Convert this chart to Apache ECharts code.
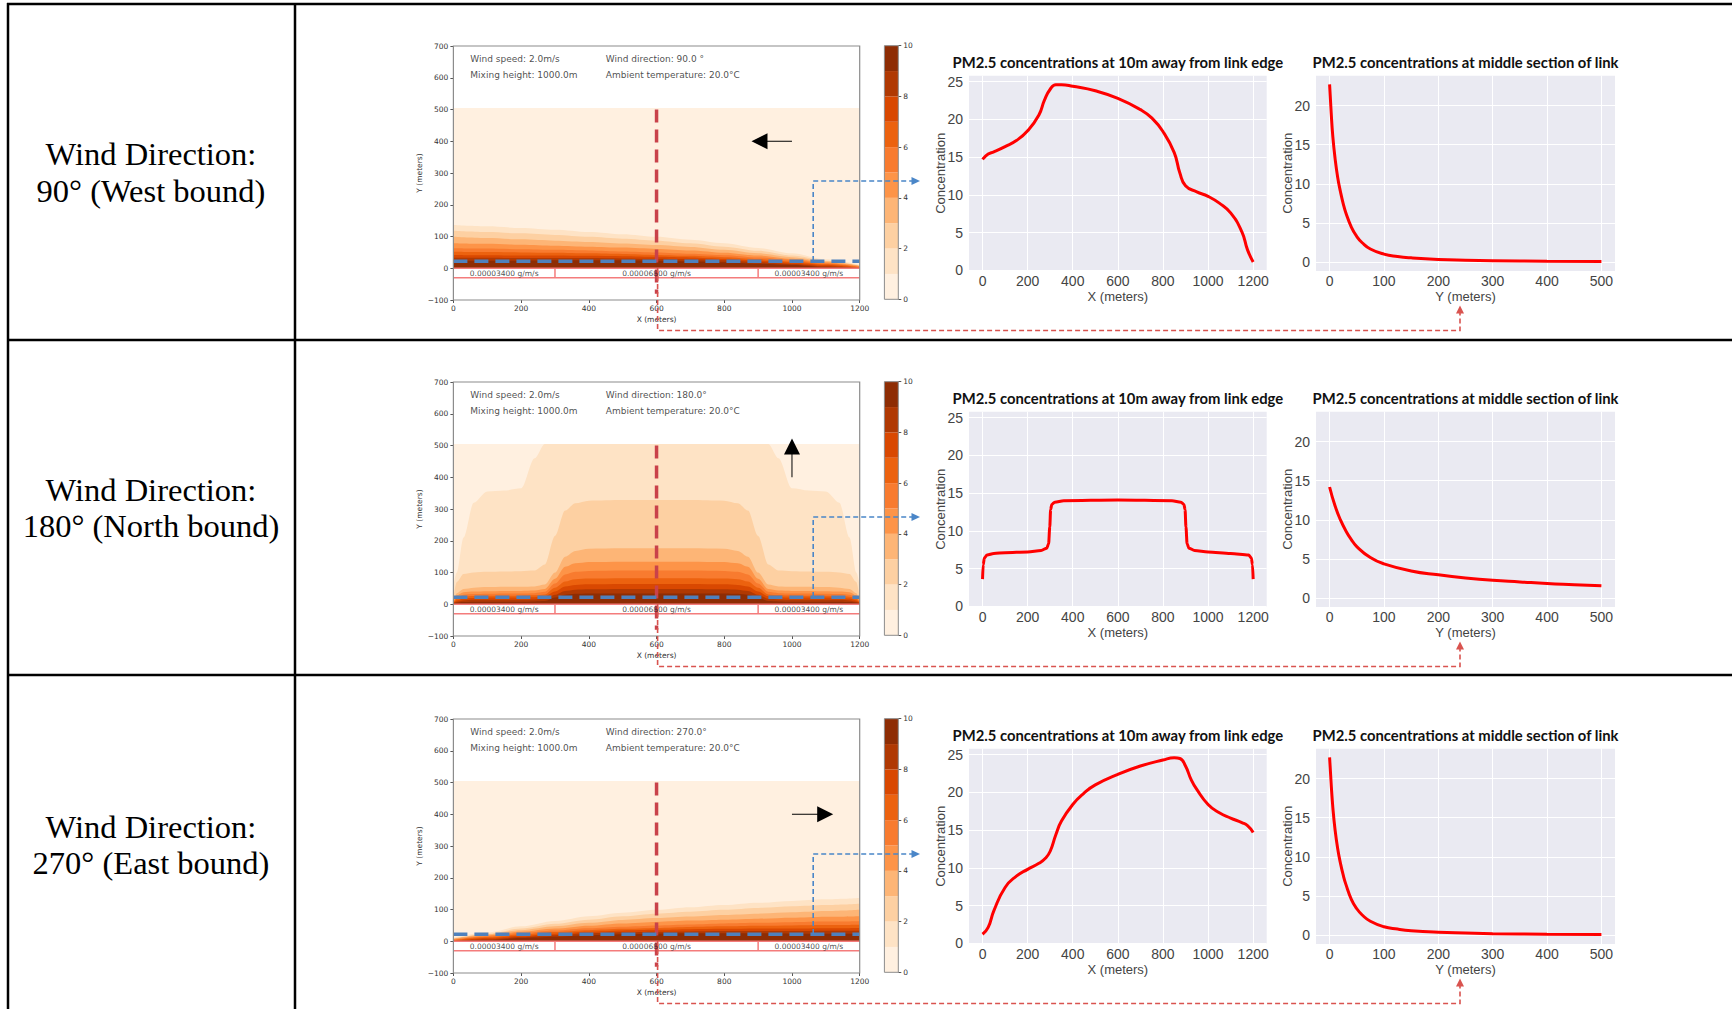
<!DOCTYPE html>
<html>
<head>
<meta charset="utf-8">
<title>PM2.5 dispersion by wind direction</title>
<script src="https://cdn.jsdelivr.net/npm/echarts@6.0.0/dist/echarts.min.js"></script>
<style>
  html, body { margin: 0; padding: 0; background: #fff; }
  #main { width: 1732px; height: 1009px; }
</style>
</head>
<body>
<div id="main"></div>
<script>
// ---- values ----
const rowLabels = ['Wind Direction:\n90\u00b0 (West bound)', 'Wind Direction:\n180\u00b0 (North bound)', 'Wind Direction:\n270\u00b0 (East bound)'];
const windSpeedText = 'Wind speed: 2.0m/s';
const windDirTexts = ['Wind direction: 90.0 \u00b0', 'Wind direction: 180.0\u00b0', 'Wind direction: 270.0\u00b0'];
const mixingText = 'Mixing height: 1000.0m';
const ambientText = 'Ambient temperature: 20.0\u00b0C';
const edgeTitle = 'PM2.5 concentrations at 10m away from link edge';
const midTitle = 'PM2.5 concentrations at middle section of link';

const roadSegX = [0, 300, 900, 1200];
const roadEdgeY = [0, -30];
const roadRates = ['0.00003400 g/m/s', '0.00006800 g/m/s', '0.00003400 g/m/s'];
const middleSectionX = 600;
const edgeLineY = 22;
const windTail = [[1000, 400], [1000, 400], [1000, 400]];
const windHead = [[904, 400], [1000, 497], [1098, 400]];

const colorbarLevels = [0, 1, 2, 3, 4, 5, 6, 7, 8, 9, 10];
const colorbarTicks = [0, 2, 4, 6, 8, 10];
const levelColors = ['#fff0e0', '#fee3c5', '#fdd0a2', '#fdb576', '#fd9448', '#f87b2f', '#ec620f', '#d94801', '#b03903', '#8e2d04'];

// plume contour heights (m) for levels 1..9
const plumeTop = 505;
const plumeXSide = [0, 100, 200, 300, 400, 500, 600, 700, 800, 900, 1000, 1100, 1200];
const plumeXNorth = [0, 10, 30, 60, 100, 150, 200, 240, 270, 300, 330, 360, 400, 500, 600, 700, 800, 840, 870, 900, 930, 960, 1000, 1050, 1100, 1140, 1170, 1190, 1200];
const plumeWest = [
  [136, 132, 127, 121, 114, 107, 99, 90, 79, 64, 47, 28, 11],
  [118, 114, 110, 105, 99, 93, 87, 79, 68, 55, 40, 24, 9],
  [99, 95, 91, 87, 83, 78, 73, 67, 58, 47, 35, 22, 8],
  [79, 77, 74, 71, 68, 65, 61, 56, 49, 40, 30, 19, 7],
  [63, 62, 60, 58, 56, 53, 50, 46, 41, 34, 26, 16, 5],
  [52, 51, 50, 49, 47, 45, 42, 39, 35, 29, 21, 13, 3],
  [42, 41, 40, 40, 39, 38, 36, 34, 30, 24, 17, 10, 1],
  [33, 33, 32, 32, 32, 31, 30, 28, 25, 19, 13, 6, 0],
  [24, 24, 24, 25, 25, 25, 24, 22, 19, 14, 10, 3, 0]
];
const plumeNorth = [
  [60, 100, 210, 320, 355, 358, 365, 460, 505, 505, 505, 505, 505, 505, 505, 505, 505, 505, 505, 505, 505, 460, 365, 358, 355, 320, 210, 100, 60],
  [20, 70, 95, 100, 102, 103, 104, 106, 125, 215, 295, 318, 326, 328, 328, 328, 326, 318, 295, 215, 125, 106, 104, 103, 102, 100, 95, 70, 20],
  [10, 35, 48, 52, 54, 55, 55, 56, 62, 100, 150, 168, 175, 176, 176, 176, 175, 168, 150, 100, 62, 56, 55, 55, 54, 52, 48, 35, 10],
  [8, 28, 38, 40, 41, 42, 42, 43, 48, 80, 118, 129, 133, 134, 134, 134, 133, 129, 118, 80, 48, 43, 42, 42, 41, 40, 38, 28, 8],
  [6, 22, 30, 32, 33, 34, 34, 35, 39, 65, 94, 102, 105, 106, 106, 106, 105, 102, 94, 65, 39, 35, 34, 34, 33, 32, 30, 22, 6],
  [5, 17, 24, 26, 27, 27, 27, 28, 31, 52, 72, 79, 81, 82, 82, 82, 81, 79, 72, 52, 31, 28, 27, 27, 27, 26, 24, 17, 5],
  [4, 12, 18, 20, 21, 21, 21, 22, 25, 40, 56, 61, 63, 64, 64, 64, 63, 61, 56, 40, 25, 22, 21, 21, 21, 20, 18, 12, 4],
  [3, 8, 12, 14, 14, 14, 14, 15, 17, 30, 42, 46, 47, 48, 48, 48, 47, 46, 42, 30, 17, 15, 14, 14, 14, 14, 12, 8, 3],
  [2, 5, 7, 8, 8, 8, 8, 9, 10, 21, 30, 33, 34, 34, 34, 34, 34, 33, 30, 21, 10, 9, 8, 8, 8, 8, 7, 5, 2]
];
const plumeEast = [
  [11, 28, 47, 64, 79, 90, 99, 107, 114, 121, 127, 132, 136],
  [9, 24, 40, 55, 68, 79, 87, 93, 99, 105, 110, 114, 118],
  [8, 22, 35, 47, 58, 67, 73, 78, 83, 87, 91, 95, 99],
  [7, 19, 30, 40, 49, 56, 61, 65, 68, 71, 74, 77, 79],
  [5, 16, 26, 34, 41, 46, 50, 53, 56, 58, 60, 62, 63],
  [3, 13, 21, 29, 35, 39, 42, 45, 47, 49, 50, 51, 52],
  [1, 10, 17, 24, 30, 34, 36, 38, 39, 40, 40, 41, 42],
  [0, 6, 13, 19, 25, 28, 30, 31, 32, 32, 32, 33, 33],
  [0, 3, 10, 14, 19, 22, 24, 25, 25, 25, 24, 24, 24]
];

// concentration 10 m from the link edge, along X
const edgeTicks = [0, 200, 400, 600, 800, 1000, 1200];
const edgeX1 = [0, 25, 50, 100, 150, 200, 250, 275, 300, 325, 350, 400, 500, 600, 700, 750, 800, 850, 875, 900, 950, 1000, 1050, 1100, 1150, 1175, 1200];
const edgeC1 = [14.7, 15.4, 15.7, 16.4, 17.2, 18.5, 20.6, 22.6, 24.0, 24.6, 24.6, 24.4, 23.8, 22.8, 21.3, 20.2, 18.4, 15.6, 12.9, 11.2, 10.4, 9.8, 8.9, 7.6, 5.1, 2.7, 1.1];
const edgeX2 = [0, 3, 8, 20, 50, 100, 200, 260, 285, 293, 298, 302, 307, 320, 360, 600, 840, 880, 893, 898, 902, 907, 915, 940, 1000, 1100, 1180, 1192, 1197, 1200];
const edgeC2 = [3.6, 5.5, 6.4, 6.8, 7.0, 7.1, 7.2, 7.4, 7.7, 8.3, 10.5, 12.8, 13.5, 13.8, 14.0, 14.1, 14.0, 13.8, 13.5, 12.8, 10.5, 8.3, 7.7, 7.4, 7.2, 7.0, 6.8, 6.4, 5.5, 3.6];
const edgeX3 = [0, 25, 50, 100, 150, 200, 250, 280, 300, 325, 350, 400, 450, 500, 600, 700, 800, 850, 875, 900, 925, 950, 1000, 1050, 1100, 1150, 1175, 1200];
const edgeC3 = [1.2, 2.1, 4.3, 7.4, 8.9, 9.8, 10.6, 11.3, 12.2, 14.4, 16.2, 18.4, 19.9, 21.0, 22.4, 23.5, 24.3, 24.6, 24.5, 23.5, 21.7, 20.4, 18.4, 17.3, 16.6, 16.0, 15.6, 14.7];

// concentration at the middle section, along Y
const midTicks = [0, 100, 200, 300, 400, 500];
const midY1 = [0, 3, 6, 10, 15, 20, 25, 30, 40, 50, 60, 75, 100, 125, 150, 200, 250, 300, 400, 500];
const midC1 = [22.7, 19.0, 16.0, 13.3, 10.8, 9.0, 7.5, 6.3, 4.5, 3.3, 2.5, 1.7, 1.05, 0.75, 0.58, 0.38, 0.28, 0.22, 0.15, 0.12];
const midY2 = [0, 10, 20, 30, 40, 50, 75, 100, 150, 200, 250, 300, 350, 400, 450, 500];
const midC2 = [14.2, 11.8, 10.0, 8.6, 7.5, 6.6, 5.2, 4.4, 3.5, 3.0, 2.6, 2.3, 2.1, 1.9, 1.75, 1.6];
const midY3 = [0, 3, 6, 10, 15, 20, 25, 30, 40, 50, 60, 75, 100, 125, 150, 200, 250, 300, 400, 500];
const midC3 = [22.7, 19.2, 16.3, 13.5, 11.0, 9.2, 7.7, 6.5, 4.6, 3.4, 2.6, 1.8, 1.1, 0.8, 0.6, 0.4, 0.3, 0.22, 0.15, 0.12];
const concTicksEdge = [0, 5, 10, 15, 20, 25];
const concTicksMid = [0, 5, 10, 15, 20];

const plumes = [plumeWest, plumeNorth, plumeEast];
const plumeXs = [plumeXSide, plumeXNorth, plumeXSide];
const edgeXs = [edgeX1, edgeX2, edgeX3];
const edgeCs = [edgeC1, edgeC2, edgeC3];
const midYs = [midY1, midY2, midY3];
const midCs = [midC1, midC2, midC3];

// ---- layout ----
const rowOffsets = [0, 336, 673];
const labelCenters = [172.5, 508, 845];
const arrowRotate = [90, 0, -90];
const heatBox = { left: 453.4, top: 46, width: 406.3, height: 254 };
const barBox = { left: 884.4, top: 45.7, width: 13.9, height: 253.6 };
const edgeBox = { left: 969, top: 75.7, width: 297.7, height: 195.3 };
const midBox = { left: 1316, top: 75.7, width: 299, height: 195.3 };

const tiny = { fontFamily: 'DejaVu Sans', fontSize: 7.5, color: '#333' };
const seaLabel = { fontFamily: '"Liberation Sans Narrow", "Liberation Sans", sans-serif', fontSize: 14, color: '#444' };
const seaName = { fontFamily: '"Liberation Sans", sans-serif', fontSize: 13, color: '#444' };

const chart = echarts.init(document.getElementById('main'), null, { renderer: 'svg' });
const grid = [], xAxis = [], yAxis = [], series = [], elements = [];

function addGrid(box, off, extra) {
  grid.push(Object.assign({ left: box.left, top: box.top + off, width: box.width, height: box.height,
    containLabel: false, outerBoundsMode: 'none' }, extra || {}));
  return grid.length - 1;
}
function seg(gi, pts, style, z) {
  series.push({ type: 'line', xAxisIndex: gi, yAxisIndex: gi, data: pts, symbol: 'none',
    lineStyle: style, z: z, silent: true });
}
function seaX(gi, min, max, ticks, name) {
  xAxis.push({ gridIndex: gi, type: 'value', min: min, max: max,
    axisLine: { show: false, onZero: false },
    axisTick: { show: false, customValues: ticks },
    axisLabel: Object.assign({ customValues: ticks, margin: 3, formatter: v => String(v) }, seaLabel),
    splitLine: { show: true, lineStyle: { color: '#ffffff', width: 1 } },
    name: name, nameLocation: 'middle', nameGap: 18.5, nameTextStyle: seaName });
}
function seaY(gi, min, max, ticks) {
  yAxis.push({ gridIndex: gi, type: 'value', min: min, max: max,
    axisLine: { show: false, onZero: false },
    axisTick: { show: false, customValues: ticks },
    axisLabel: Object.assign({ customValues: ticks, margin: 6, formatter: v => String(v) }, seaLabel),
    splitLine: { show: true, lineStyle: { color: '#ffffff', width: 1 } },
    name: 'Concentration', nameLocation: 'middle', nameGap: 22, nameMoveOverlap: false, nameTextStyle: seaName });
}

for (let r = 0; r < 3; r++) {
  const off = rowOffsets[r];

  // contour panel
  const hg = addGrid(heatBox, off);
  xAxis.push({ gridIndex: hg, type: 'value', min: 0, max: 1200, interval: 200,
    axisLine: { show: false, onZero: false },
    axisTick: { show: true, length: 3, lineStyle: { color: '#555' } },
    axisLabel: Object.assign({ margin: 4, formatter: v => String(v) }, tiny), splitLine: { show: false },
    name: 'X (meters)', nameLocation: 'middle', nameGap: 15, nameTextStyle: tiny });
  yAxis.push({ gridIndex: hg, type: 'value', min: -100, max: 700, interval: 100,
    axisLine: { show: false, onZero: false },
    axisTick: { show: true, length: 3, lineStyle: { color: '#555' } },
    axisLabel: Object.assign({ margin: 5, formatter: v => (v < 0 ? '\u2212' + (-v) : '' + v) }, tiny),
    splitLine: { show: false },
    name: 'Y (meters)', nameLocation: 'middle', nameGap: 30, nameMoveOverlap: false, nameTextStyle: tiny });

  const px = plumeXs[r];
  series.push({ type: 'line', xAxisIndex: hg, yAxisIndex: hg, silent: true, symbol: 'none',
    data: [[px[0], plumeTop], [px[px.length - 1], plumeTop]],
    lineStyle: { width: 0, opacity: 0 }, areaStyle: { color: levelColors[0], opacity: 1 }, z: 2 });
  plumes[r].forEach((hs, k) => {
    series.push({ type: 'line', xAxisIndex: hg, yAxisIndex: hg, silent: true, symbol: 'none',
      data: px.map((x, i) => [x, hs[i]]), smooth: 0.3, smoothMonotone: 'x',
      lineStyle: { width: 0, opacity: 0 }, areaStyle: { color: levelColors[k + 1], opacity: 1 }, z: 3 + k });
  });

  const roadStyle = { color: '#f47c7c', width: 1.5 };
  roadEdgeY.forEach(y => seg(hg, [[roadSegX[0], y], [roadSegX[3], y]], roadStyle, 20));
  [roadSegX[1], roadSegX[2]].forEach(x => seg(hg, [[x, roadEdgeY[0]], [x, roadEdgeY[1]]], roadStyle, 20));
  series.push({ type: 'scatter', xAxisIndex: hg, yAxisIndex: hg, silent: true, symbolSize: 0, z: 23,
    data: roadRates.map((t, i) => ({ name: t, value: [(roadSegX[i] + roadSegX[i + 1]) / 2, -18] })),
    label: Object.assign({ show: true, position: 'inside', formatter: '{b}' }, tiny, { color: '#222' }) });

  series.push({ type: 'scatter', xAxisIndex: hg, yAxisIndex: hg, silent: true, symbolSize: 0, z: 23,
    data: [
      { name: windSpeedText, value: [50, 660] },
      { name: windDirTexts[r], value: [450, 660] },
      { name: mixingText, value: [50, 610] },
      { name: ambientText, value: [450, 610] }
    ],
    label: Object.assign({ show: true, position: 'right', distance: 0, formatter: '{b}' }, tiny, { fontSize: 9, color: '#222' }) });

  seg(hg, [[middleSectionX, 500], [middleSectionX, -80]], { color: '#c9424a', width: 3.5, type: [13, 7] }, 21);
  seg(hg, [[0, edgeLineY], [1200, edgeLineY]], { color: '#4f81bd', width: 3.5, type: [14, 7] }, 22);

  series.push({ type: 'line', xAxisIndex: hg, yAxisIndex: hg, silent: true, showSymbol: true, z: 24,
    data: [{ value: windTail[r], symbol: 'none' },
           { value: windHead[r], symbol: 'triangle', symbolSize: 16, symbolRotate: arrowRotate[r] }],
    lineStyle: { color: '#000', width: 1 }, itemStyle: { color: '#000' } });

  // colour bar
  const cg = addGrid(barBox, off);
  xAxis.push({ gridIndex: cg, type: 'value', min: 0, max: 1, show: false });
  yAxis.push({ gridIndex: cg, type: 'value', position: 'right', min: 0, max: 10,
    axisLine: { show: false, onZero: false },
    axisTick: { show: true, length: 3, customValues: colorbarTicks, lineStyle: { color: '#555' } },
    axisLabel: Object.assign({ margin: 5, customValues: colorbarTicks }, tiny), splitLine: { show: false } });
  series.push({ type: 'custom', xAxisIndex: cg, yAxisIndex: cg, silent: true, z: 2,
    data: colorbarLevels.slice(0, -1).map((v, i) => [v, colorbarLevels[i + 1]]),
    renderItem: (params, api) => {
      const lo = api.coord([0, api.value(0)]);
      const hi = api.coord([1, api.value(1)]);
      return { type: 'rect', shape: { x: lo[0], y: hi[1], width: hi[0] - lo[0], height: lo[1] - hi[1] },
        style: { fill: levelColors[params.dataIndex] } };
    } });

  // line chart along the edge
  const eg = addGrid(edgeBox, off, { show: true, backgroundColor: '#eaeaf2', borderWidth: 0 });
  seaX(eg, -60, 1260, edgeTicks, 'X (meters)');
  seaY(eg, -0.1, 25.8, concTicksEdge);
  series.push({ type: 'line', xAxisIndex: eg, yAxisIndex: eg, symbol: 'none',
    smooth: r === 1 ? 0.3 : 0.5, smoothMonotone: r === 1 ? 'x' : undefined,
    data: edgeXs[r].map((x, i) => [x, edgeCs[r][i]]), lineStyle: { color: '#ff0000', width: 3 }, z: 5 });

  // line chart across the middle section
  const mg = addGrid(midBox, off, { show: true, backgroundColor: '#eaeaf2', borderWidth: 0 });
  seaX(mg, -25, 525, midTicks, 'Y (meters)');
  seaY(mg, -1.1, 23.8, concTicksMid);
  series.push({ type: 'line', xAxisIndex: mg, yAxisIndex: mg, symbol: 'none', smooth: 0.5,
    data: midYs[r].map((x, i) => [x, midCs[r][i]]), lineStyle: { color: '#ff0000', width: 3 }, z: 5 });

  // frames, titles, connectors
  elements.push({ type: 'rect', z: 90, shape: { x: heatBox.left, y: heatBox.top + off, width: heatBox.width, height: heatBox.height },
    style: { fill: 'none', stroke: '#8c8c8c', lineWidth: 1.2 } });
  elements.push({ type: 'rect', z: 90, shape: { x: barBox.left, y: barBox.top + off, width: barBox.width, height: barBox.height },
    style: { fill: 'none', stroke: '#8c8c8c', lineWidth: 1 } });
  elements.push({ type: 'text', z: 90, x: edgeBox.left + edgeBox.width / 2, y: 62 + off,
    style: { text: edgeTitle, fill: '#111', fontFamily: 'Lato', fontWeight: 'bold', fontSize: 14.8, align: 'center', verticalAlign: 'middle' } });
  elements.push({ type: 'text', z: 90, x: midBox.left + midBox.width / 2, y: 62 + off,
    style: { text: midTitle, fill: '#111', fontFamily: 'Lato', fontWeight: 'bold', fontSize: 14.8, align: 'center', verticalAlign: 'middle' } });

  const blue = '#4a86c8', red = '#d9534f';
  elements.push({ type: 'polyline', z: 95, shape: { points: [[813.2, 261 + off], [813.2, 181 + off], [912, 181 + off]] },
    style: { stroke: blue, lineWidth: 1.6, lineDash: [5, 3], fill: 'none' } });
  elements.push({ type: 'polygon', z: 95, shape: { points: [[911.5, 177 + off], [920, 181 + off], [911.5, 185 + off]] },
    style: { fill: blue } });
  elements.push({ type: 'polyline', z: 95, shape: { points: [[657.6, 268 + off], [657.6, 330.5 + off], [1460, 330.5 + off], [1460, 313 + off]] },
    style: { stroke: red, lineWidth: 1.6, lineDash: [5, 3], fill: 'none' } });
  elements.push({ type: 'polygon', z: 95, shape: { points: [[1456, 313.5 + off], [1460, 305.5 + off], [1464, 313.5 + off]] },
    style: { fill: red } });

  elements.push({ type: 'text', z: 100, x: 151, y: labelCenters[r],
    style: { text: rowLabels[r], fill: '#000', fontFamily: '"Liberation Serif", serif', fontSize: 32.5, lineHeight: 36.7,
      align: 'center', verticalAlign: 'middle' } });
}

// table rules
[[7, 4, 1732, 4], [7, 340, 1732, 340], [7, 675, 1732, 675], [8, 3, 8, 1009], [295, 3, 295, 1009]].forEach(l => {
  elements.push({ type: 'line', z: 100, shape: { x1: l[0], y1: l[1], x2: l[2], y2: l[3] }, style: { stroke: '#000', lineWidth: 2.5 } });
});

chart.setOption({
  animation: false,
  backgroundColor: '#ffffff',
  grid: grid,
  xAxis: xAxis,
  yAxis: yAxis,
  series: series,
  graphic: { elements: elements }
});
</script>
</body>
</html>
